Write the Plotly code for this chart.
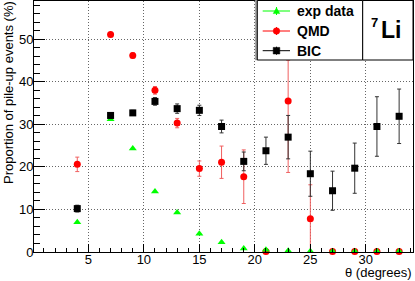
import plotly.graph_objects as go

theta = [4, 7, 9, 11, 13, 15, 17, 19, 21, 23, 25, 27, 29, 31, 33]

exp_vals = [7.0, 31.2, 24.3, 14.2, 9.3, 4.3, 2.3, 0.8, 0.5, 0.3, 0.2, 0.2, 0.2, 0.2, 0.2]

qmd_vals = [20.6, 51.1, 46.2, 38.0, 30.3, 19.6, 21.1, 17.7, 0.1, 35.5, 7.8, 0.1, 0.1, 0.1, 0.1]
# upper error at 23 deg is only visible up to the legend box
qmd_err_plus = [1.7, 0.5, 0.6, 0.9, 1.1, 1.8, 3.8, 6.3, 0.1, 9.6, 8.0, 0.1, 0.1, 0.1, 0.1]
qmd_err_minus = [1.7, 0.5, 0.6, 0.9, 1.1, 1.8, 3.8, 6.3, 0.1, 16.8, 8.0, 0.1, 0.1, 0.1, 0.1]

bic_vals = [10.2, 32.1, 32.7, 35.4, 33.7, 33.3, 29.5, 21.3, 23.8, 27.0, 18.4, 14.4, 19.7, 29.5, 31.9]
bic_err = [0.8, 0.6, 0.6, 0.9, 1.1, 1.2, 1.5, 2.2, 3.2, 5.1, 5.3, 4.6, 5.9, 7.0, 6.4]

x_ticks = [5, 10, 15, 20, 25, 30]
y_ticks = [0, 10, 20, 30, 40, 50]

series_names = ["exp data", "QMD", "BIC"]

GREEN = "#00ff00"
RED = "#ff0000"
BLACK = "#000000"
FONT = "Liberation Sans, Arial"

fig = go.Figure()

fig.add_trace(go.Scatter(
    x=theta, y=qmd_vals, mode="markers", name=series_names[1], showlegend=False, cliponaxis=False,
    marker=dict(symbol="circle", size=7, color=RED),
    error_y=dict(type="data", symmetric=False, array=qmd_err_plus, arrayminus=qmd_err_minus,
                 color="#f06060", thickness=1, width=2),
))
fig.add_trace(go.Scatter(
    x=theta, y=exp_vals, mode="markers", name=series_names[0], showlegend=False, cliponaxis=False,
    marker=dict(symbol="triangle-up", size=7, color=GREEN),
))
fig.add_trace(go.Scatter(
    x=theta, y=bic_vals, mode="markers", name=series_names[2], showlegend=False, cliponaxis=False,
    marker=dict(symbol="square", size=7, color=BLACK),
    error_y=dict(type="data", array=bic_err, color="#333333", thickness=1, width=2),
))

W, H = 415, 281
L, R, T, B = 34, 2, 1, 29
pw = W - L - R
ph = H - T - B


def px_x(p):
    return (p - L) / pw


def px_y(p):
    return (H - B - p) / ph


def box_path(xa, xb, ya, yb):
    return "M {:.5f},{:.5f} L {:.5f},{:.5f} L {:.5f},{:.5f} L {:.5f},{:.5f} Z".format(
        px_x(xa), px_y(ya), px_x(xb), px_y(ya), px_x(xb), px_y(yb), px_x(xa), px_y(yb))


shapes = [
    # shadow
    dict(type="path", xref="paper", yref="paper", path=box_path(255.3, 257.5, 0, 60),
         fillcolor="#999999", line=dict(color="#999999", width=0.5), layer="above"),
    # legend box
    dict(type="path", xref="paper", yref="paper", path=box_path(257.3, 362.7, 0.5, 60),
         fillcolor="white", line=dict(color="black", width=1), layer="above"),
    # label box
    dict(type="path", xref="paper", yref="paper", path=box_path(362.7, 413, 0.5, 60),
         fillcolor="white", line=dict(color="black", width=1), layer="above"),
]

annotations = [
    dict(text="<b>Li</b>", xref="paper", yref="paper", x=px_x(379), y=px_y(30), xanchor="left",
         yanchor="middle", showarrow=False, font=dict(size=23, family=FONT, color="black")),
    dict(text="<b>7</b>", xref="paper", yref="paper", x=px_x(369), y=px_y(22.5), xanchor="left",
         yanchor="middle", showarrow=False, font=dict(size=13, family=FONT, color="black")),
    dict(text="Proportion of pile-up events (%)", xref="paper", yref="paper", x=px_x(8), y=px_y(93),
         xanchor="center", yanchor="middle", textangle=-90, showarrow=False,
         font=dict(size=13, family=FONT, color="black")),
    dict(text="θ (degrees)", xref="paper", yref="paper", x=px_x(412.5), y=px_y(272),
         xanchor="right", yanchor="middle", showarrow=False,
         font=dict(size=13, family=FONT, color="black")),
]

# manual legend (ROOT-style)
rows_y = [11, 31, 50.7]
cols = [GREEN, RED, BLACK]
syms = ["tri", "circ", "sq"]
lx0, lx1, lmx = 262.7, 290.0, 276.5
for name, col, sym, ry in zip(series_names, cols, syms, rows_y):
    shapes.append(dict(type="line", xref="paper", yref="paper", x0=px_x(lx0), x1=px_x(lx1),
                       y0=px_y(ry), y1=px_y(ry), line=dict(color=col, width=1), layer="above"))
    shapes.append(dict(type="line", xref="paper", yref="paper", x0=px_x(lmx), x1=px_x(lmx),
                       y0=px_y(ry - 4), y1=px_y(ry + 4), line=dict(color=col, width=1), layer="above"))
    r = 3.3
    if sym == "tri":
        path = "M {:.5f},{:.5f} L {:.5f},{:.5f} L {:.5f},{:.5f} Z".format(
            px_x(lmx - r), px_y(ry + 2.6), px_x(lmx + r), px_y(ry + 2.6), px_x(lmx), px_y(ry - 3.2))
        shapes.append(dict(type="path", xref="paper", yref="paper", path=path,
                           fillcolor=col, line=dict(color=col, width=0.5), layer="above"))
    elif sym == "circ":
        shapes.append(dict(type="circle", xref="paper", yref="paper",
                           x0=px_x(lmx - r), x1=px_x(lmx + r), y0=px_y(ry + r), y1=px_y(ry - r),
                           fillcolor=col, line=dict(color=col, width=0.5), layer="above"))
    else:
        shapes.append(dict(type="rect", xref="paper", yref="paper",
                           x0=px_x(lmx - r), x1=px_x(lmx + r), y0=px_y(ry + r), y1=px_y(ry - r),
                           fillcolor=col, line=dict(color=col, width=0.5), layer="above"))
    annotations.append(dict(text="<b>" + name + "</b>", xref="paper", yref="paper",
                            x=px_x(295), y=px_y(ry), xanchor="left", yanchor="middle",
                            showarrow=False, font=dict(size=14, family=FONT, color="black")))

fig.update_layout(
    width=W, height=H,
    margin=dict(l=L, r=R, t=T, b=B),
    plot_bgcolor="white", paper_bgcolor="white",
    font=dict(family=FONT, size=13, color="black"),
    shapes=shapes, annotations=annotations,
    showlegend=False,
)

GRID = dict(showgrid=True, gridcolor="#666666", griddash="1px,2px", gridwidth=1, zeroline=False)

fig.update_xaxes(
    range=[0.1, 34.25], tickvals=x_ticks, ticks="inside", ticklen=8, tickcolor="black",
    showline=True, linecolor="black", linewidth=1, mirror=True, ticklabelstandoff=-5,
    minor=dict(ticks="inside", ticklen=4, dtick=1, tick0=0, tickcolor="black", showgrid=False),
    **GRID,
)
fig.update_yaxes(
    range=[0, 59], tickvals=y_ticks, ticks="inside", ticklen=11, tickcolor="black",
    showline=True, linecolor="black", linewidth=1, mirror=True, ticklabelstandoff=-3,
    minor=dict(ticks="inside", ticklen=6, dtick=2, tick0=0, tickcolor="black", showgrid=False),
    **GRID,
)

fig.write_html("out.html", config={"displayModeBar": False},
               post_script="document.body.style.margin='0';")
